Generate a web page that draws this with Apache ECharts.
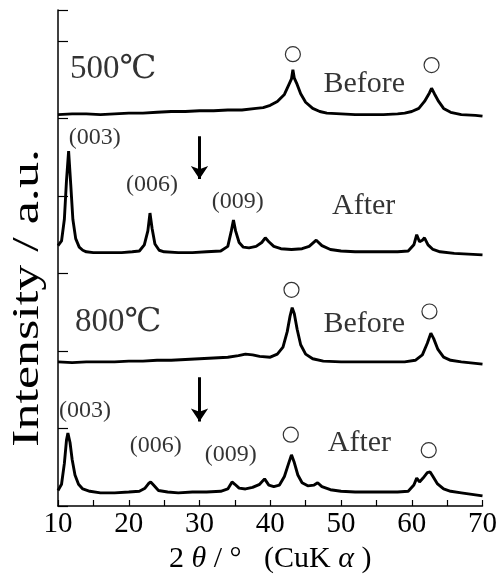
<!DOCTYPE html>
<html>
<head>
<meta charset="utf-8">
<title>XRD 500 / 800</title>
<script src="https://cdn.jsdelivr.net/npm/echarts@6/dist/echarts.min.js"></script>
<style>
  html, body { margin: 0; padding: 0; background: #fff; }
  #chart { width: 500px; height: 579px; }
</style>
</head>
<body>
<div id="chart"></div>
<script>
// x ticks (2theta)
var xTicks = [10, 20, 30, 40, 50, 60, 70]

// 500C before (offset trace, top)
var before500 = [
  [10, 5.05], [12, 5.06], [14, 5.06], [16, 5.05], [18, 5.06], [20, 5.07], [22, 5.07],
  [24, 5.08], [26, 5.09], [28, 5.09], [30, 5.10], [32, 5.10], [34, 5.11], [36, 5.11],
  [38, 5.13], [39, 5.14], [40, 5.17], [41, 5.22], [42, 5.31], [42.6, 5.43], [43.0, 5.51],
  [43.2, 5.63], [43.4, 5.52], [43.8, 5.44], [44.3, 5.32], [45, 5.21], [46, 5.13],
  [47, 5.09], [48, 5.07], [50, 5.06], [52, 5.05], [54, 5.05], [56, 5.05], [58, 5.06],
  [59, 5.07], [60, 5.09], [61, 5.13], [61.8, 5.22], [62.5, 5.33], [62.8, 5.39],
  [63.2, 5.32], [63.8, 5.22], [64.5, 5.13], [65.5, 5.08], [67, 5.05], [69, 5.04], [70, 5.03]
]

// 500C after
var after500 = [
  [10.0, 3.36], [10.5, 3.42], [10.9, 3.70], [11.2, 4.20], [11.5, 4.58], [11.8, 4.15],
  [12.1, 3.70], [12.5, 3.45], [13.0, 3.34], [13.5, 3.30], [14, 3.28], [15, 3.27],
  [17, 3.27], [19, 3.27], [20.5, 3.28], [21.5, 3.29], [22.2, 3.37], [22.7, 3.55],
  [23.0, 3.78], [23.3, 3.58], [23.7, 3.38], [24.3, 3.30], [25, 3.28], [27, 3.27],
  [29, 3.27], [31, 3.28], [33, 3.29], [34.0, 3.35], [34.5, 3.55], [34.8, 3.69],
  [35.1, 3.55], [35.6, 3.40], [36.2, 3.34], [37, 3.33], [38, 3.35], [38.8, 3.40],
  [39.3, 3.46], [39.8, 3.41], [40.5, 3.35], [41.5, 3.32], [43, 3.31], [44.5, 3.32],
  [45.5, 3.35], [46.5, 3.43], [47.3, 3.36], [48.5, 3.31], [50, 3.29], [52, 3.28],
  [54, 3.28], [56, 3.28], [58, 3.28], [59.5, 3.29], [60.3, 3.37], [60.7, 3.50],
  [61.1, 3.41], [61.5, 3.43], [61.8, 3.46], [62.3, 3.37], [63, 3.31], [64, 3.28],
  [66, 3.26], [68, 3.25], [70, 3.24]
]

// 800C before
var before800 = [
  [10, 1.86], [12, 1.85], [14, 1.86], [16, 1.86], [18, 1.86], [20, 1.87], [22, 1.87],
  [24, 1.88], [26, 1.88], [28, 1.89], [30, 1.90], [32, 1.91], [34, 1.92], [35.5, 1.94],
  [36.5, 1.96], [37.5, 1.95], [38.5, 1.93], [40, 1.92], [41, 1.96], [41.8, 2.05],
  [42.4, 2.25], [42.8, 2.45], [43.1, 2.56], [43.4, 2.48], [43.8, 2.28], [44.3, 2.08],
  [45, 1.96], [46, 1.90], [47.5, 1.87], [50, 1.86], [53, 1.86], [56, 1.86], [59, 1.86],
  [60.5, 1.88], [61.5, 1.95], [62.2, 2.10], [62.7, 2.23], [63.1, 2.16], [63.7, 2.02],
  [64.5, 1.92], [65.5, 1.88], [67, 1.86], [70, 1.83]
]

// 800C after (bottom)
var after800 = [
  [10, 0.20], [10.5, 0.28], [10.9, 0.55], [11.2, 0.85], [11.4, 0.94], [11.7, 0.82],
  [12.0, 0.60], [12.4, 0.40], [12.9, 0.28], [13.5, 0.22], [14.5, 0.19], [16, 0.17],
  [18, 0.17], [20, 0.18], [21.5, 0.19], [22.3, 0.23], [22.8, 0.29], [23.1, 0.31],
  [23.5, 0.27], [24.2, 0.20], [25.5, 0.18], [27, 0.17], [29, 0.18], [31, 0.18],
  [33, 0.19], [34.0, 0.22], [34.6, 0.31], [35.0, 0.28], [35.6, 0.23], [36.5, 0.22],
  [37.5, 0.24], [38.5, 0.28], [39.2, 0.35], [39.8, 0.27], [40.5, 0.25], [41.3, 0.27],
  [42.0, 0.38], [42.6, 0.55], [43.0, 0.66], [43.4, 0.56], [43.9, 0.40], [44.5, 0.30],
  [45.3, 0.26], [46.2, 0.27], [46.7, 0.30], [47.3, 0.25], [48.5, 0.21], [50, 0.19],
  [52, 0.18], [54, 0.18], [56, 0.18], [58, 0.18], [59.5, 0.19], [60.3, 0.27],
  [60.7, 0.36], [61.1, 0.31], [61.6, 0.36], [62.2, 0.43], [62.6, 0.44], [63.0, 0.38],
  [63.6, 0.29], [64.5, 0.22], [65.5, 0.19], [67, 0.17], [68.5, 0.15], [70, 0.13]
]

// open circle markers (phase peaks)
var circleMarks = [
  [43.2, 5.83], [62.8, 5.69],
  [43.0, 2.79], [62.5, 2.51],
  [42.9, 0.92], [62.4, 0.72]
]

// annotation texts [x, y, text]
var tempLabels = [[17.8, 5.64, '500℃'], [18.5, 2.37, '800℃']]
var stateLabels = [
  [53.3, 5.44, 'Before'], [53.2, 3.87, 'After'],
  [53.3, 2.35, 'Before'], [52.6, 0.81, 'After']
]
var hklLabels = [
  [15.2, 4.75, '(003)'], [23.3, 4.14, '(006)'], [35.4, 3.92, '(009)'],
  [13.8, 1.23, '(003)'], [23.8, 0.78, '(006)'], [34.4, 0.66, '(009)']
]
// arrows [x, yFrom, yTo]
var arrows = [[30, 4.77, 4.22], [30, 1.66, 1.09]]

var serif = '"Liberation Serif", "Times New Roman", "DejaVu Serif", "Noto Sans CJK JP", serif'

function textSeries(list, size) {
  return {
    type: 'scatter',
    symbolSize: 0,
    silent: true,
    data: list.map(function (d) { return { value: [d[0], d[1]], name: d[2] } }),
    label: {
      show: true,
      position: 'inside',
      formatter: function (p) { return p.name },
      color: '#000',
      fontFamily: serif,
      fontSize: size
    },
    z: 5
  }
}

function traceSeries(data) {
  return {
    type: 'line',
    data: data,
    showSymbol: false,
    symbol: 'none',
    lineStyle: { color: '#000', width: 2.9 },
    silent: true
  }
}

var chart = echarts.init(document.getElementById('chart'))
chart.setOption({
  animation: false,
  backgroundColor: '#fff',
  grid: { left: 58, right: 17, top: 10, bottom: 73 },
  xAxis: {
    type: 'value',
    min: 10,
    max: 70,
    interval: 10,
    axisLine: { lineStyle: { color: '#000', width: 1.5 } },
    axisTick: { inside: true, length: 6, lineStyle: { color: '#000', width: 1.2 } },
    minorTick: { show: true, splitNumber: 2, length: 6, lineStyle: { color: '#000', width: 1.2 } },
    splitLine: { show: false },
    axisLabel: {
      color: '#000', fontFamily: serif, fontSize: 29, margin: 4,
      formatter: function (v) { return xTicks.indexOf(v) >= 0 ? String(v) : '' }
    },
    name: '2 {g|θ} / °   (CuK {g|α} )',
    nameLocation: 'middle',
    nameGap: 36,
    nameTextStyle: {
      color: '#000', fontFamily: serif, fontSize: 30,
      rich: { g: { fontFamily: serif, fontSize: 30, fontStyle: 'italic', color: '#000' } }
    }
  },
  yAxis: {
    type: 'value',
    min: 0,
    max: 6.4,
    interval: 1,
    axisLine: { show: true, lineStyle: { color: '#000', width: 1.5 } },
    axisTick: { show: true, inside: true, length: 10, lineStyle: { color: '#000', width: 1.2 } },
    axisLabel: { show: false },
    splitLine: { show: false }
  },
  graphic: [{
    type: 'text',
    x: 28,
    y: 298,
    rotation: Math.PI / 2,
    scaleX: 1.37,
    style: {
      text: 'Intensity / a.u.',
      font: '38px "Liberation Serif", serif',
      fill: '#000',
      align: 'center',
      verticalAlign: 'middle'
    }
  }],
  series: [
    traceSeries(before500),
    traceSeries(after500),
    traceSeries(before800),
    traceSeries(after800),
    {
      type: 'scatter',
      data: circleMarks,
      symbol: 'circle',
      symbolSize: 15,
      itemStyle: { color: 'rgba(0,0,0,0)', borderColor: '#000', borderWidth: 1.2 },
      silent: true,
      z: 4
    },
    {
      type: 'lines',
      coordinateSystem: 'cartesian2d',
      data: arrows.map(function (a) { return { coords: [[a[0], a[1]], [a[0], a[2]]] } }),
      symbol: ['none', 'arrow'],
      symbolSize: [9, 13],
      lineStyle: { color: '#000', width: 3, opacity: 1 },
      silent: true
    },
    textSeries(tempLabels, 33),
    textSeries(stateLabels, 30),
    textSeries(hklLabels, 24)
  ]
})
</script>
</body>
</html>
